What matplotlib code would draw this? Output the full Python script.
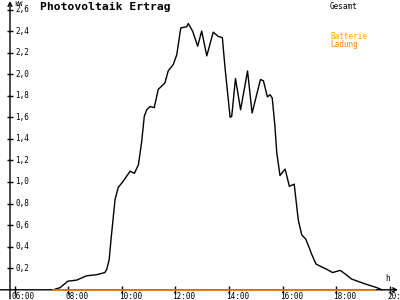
#!/usr/bin/env python3

# Photovoltaik Ertrag - Tagesverlauf.
import matplotlib
matplotlib.use("Agg")
import matplotlib.pyplot as plt
import matplotlib.transforms as mtransforms

# Gesamt [kW] over time of day [h].
Zeit = [7.44, 7.70, 7.99, 8.32, 8.69, 9.06, 9.37, 9.44, 9.53, 9.60,
        9.75, 9.87, 10.06, 10.31, 10.47, 10.62, 10.74, 10.84, 10.93, 11.05,
        11.21, 11.36, 11.49, 11.61, 11.73, 11.92, 12.05, 12.20, 12.42, 12.48,
        12.64, 12.83, 12.98, 13.17, 13.41, 13.60, 13.75, 13.85, 14.04, 14.10,
        14.24, 14.43, 14.69, 14.86, 15.17, 15.28, 15.43, 15.53, 15.61, 15.71,
        15.78, 15.90, 16.09, 16.25, 16.43, 16.58, 16.71, 16.86, 16.99, 17.08,
        17.24, 17.39, 17.64, 17.86, 18.14, 18.26, 18.57, 19.01, 19.51, 19.70]
Gesamt = [0.00, 0.02, 0.08, 0.09, 0.13, 0.14, 0.16, 0.19, 0.28, 0.47,
          0.84, 0.95, 1.01, 1.10, 1.08, 1.16, 1.37, 1.61, 1.67, 1.70,
          1.69, 1.86, 1.89, 1.92, 2.03, 2.09, 2.18, 2.43, 2.44, 2.47,
          2.40, 2.26, 2.40, 2.17, 2.39, 2.35, 2.34, 2.06, 1.60, 1.61,
          1.96, 1.67, 2.03, 1.64, 1.95, 1.94, 1.79, 1.81, 1.78, 1.52,
          1.27, 1.06, 1.12, 0.96, 0.98, 0.65, 0.51, 0.47, 0.39, 0.33,
          0.24, 0.22, 0.19, 0.16, 0.18, 0.16, 0.10, 0.06, 0.02, 0.00]

# Batterie Ladung [kW].
LadungZeit = [7.45, 19.45]
Ladung = [0.0, 0.0]

YTicks = [0.2, 0.4, 0.6, 0.8, 1.0, 1.2, 1.4, 1.6, 1.8, 2.0, 2.2, 2.4, 2.6]
YLabels = ["0,2", "0,4", "0,6", "0,8", "1,0", "1,2", "1,4", "1,6", "1,8",
           "2,0", "2,2", "2,4", "2,6"]
XTicks = [6, 8, 10, 12, 14, 16, 18, 20]
XLabels = ["06:00", "08:00", "10:00", "12:00", "14:00", "16:00", "18:00", "20:00"]

Mono = "DejaVu Sans Mono"

Fig = plt.figure(figsize=(4, 3), dpi=100)
Ax = Fig.add_axes([10/400, 10.2/300, 388/400, 288.8/300])
Ax.set_xlim(5.832, 20.30)
Ax.set_ylim(0, 2.679)
for Spine in Ax.spines.values():
    Spine.set_visible(False)

# Axis lines with arrows.
Ax.annotate("", xy=(1.0, 0), xytext=(-10/388, 0), xycoords="axes fraction",
            arrowprops=dict(arrowstyle="->", lw=1, color="black",
                            shrinkA=0, shrinkB=0, mutation_scale=7),
            annotation_clip=False)
Ax.annotate("", xy=(0, 1.0), xytext=(0, -9/288.8), xycoords="axes fraction",
            arrowprops=dict(arrowstyle="->", lw=1, color="black",
                            shrinkA=0, shrinkB=0, mutation_scale=7),
            annotation_clip=False)

# Ticks.
Ax.set_yticks(YTicks)
Ax.set_xticks(XTicks)
Ax.tick_params(axis="y", direction="inout", length=5, width=1, labelleft=False)
Ax.tick_params(axis="x", direction="inout", length=6, width=1, labelbottom=False)
YTrans = mtransforms.offset_copy(Ax.get_yaxis_transform(), fig=Fig, x=5, y=0, units="dots")
for Value, Label in zip(YTicks, YLabels):
    Ax.text(0, Value, Label, transform=YTrans, ha="left", va="center",
            fontsize=5.5, family=Mono)
XTrans = mtransforms.offset_copy(Ax.get_xaxis_transform(), fig=Fig, x=-3, y=-2, units="dots")
for Value, Label in zip(XTicks, XLabels):
    Ax.text(Value, 0, Label, transform=XTrans, ha="left", va="top",
            fontsize=5.5, family=Mono, clip_on=False)

# Data.
Ax.plot(Zeit, Gesamt, color="black", lw=1, clip_on=False)
Ax.plot(LadungZeit, Ladung, color="#ff8000", lw=1.2, clip_on=False, zorder=5)

# Texts.
Fig.text(40/400, 1 - 2/300, "Photovoltaik Ertrag", ha="left", va="top",
         fontsize=8.2, family=Mono, fontweight="bold")
Fig.text(14/400, 1 - 0.5/300, "kW", ha="left", va="top", fontsize=5, family=Mono)
Fig.text(385/400, 1 - 274/300, "h", ha="left", va="top", fontsize=5.5, family=Mono)
Fig.text(330/400, 1 - 2/300, "Gesamt", ha="left", va="top", fontsize=5.5, family=Mono)
Fig.text(330/400, 1 - 32/300, "Batterie", ha="left", va="top", fontsize=5.5,
         family=Mono, color="#ffa500")
Fig.text(330/400, 1 - 40/300, "Ladung", ha="left", va="top", fontsize=5.5,
         family=Mono, color="#ff8000")

Fig.savefig("out.png", dpi=100)
